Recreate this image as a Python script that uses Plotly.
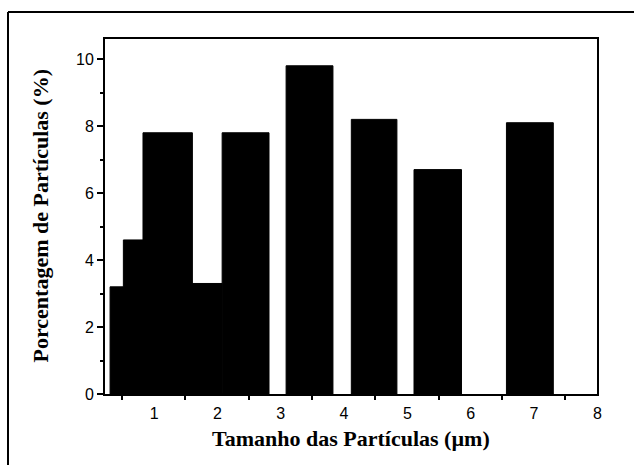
import plotly.graph_objects as go

# Particle size distribution (histogram-style bars with explicit bin widths)
bin_centers = [0.415, 0.675, 1.22, 1.845, 2.45, 3.46, 4.48, 5.485, 6.94]
bin_widths = [0.21, 0.31, 0.78, 0.47, 0.74, 0.74, 0.72, 0.75, 0.74]
percentages = [3.2, 4.6, 7.8, 3.3, 7.8, 9.8, 8.2, 6.7, 8.1]

x_tick_positions = [0.5, 1.5, 2.5, 3.5, 4.5, 5.5, 6.5, 7.5]
x_tick_labels = ["1", "2", "3", "4", "5", "6", "7", "8"]
y_tick_values = [0, 2, 4, 6, 8, 10]

x_title = "Tamanho das Partículas (µm)"
y_title = "Porcentagem de Partículas (%)"

W, H = 634, 465
ML, MR, MT, MB = 105, 37, 39, 71
plot_w = W - ML - MR
plot_h = H - MT - MB

fig = go.Figure(
    go.Bar(
        x=bin_centers,
        y=percentages,
        width=bin_widths,
        marker=dict(color="black", line=dict(color="black", width=1)),
    )
)

tick_font = dict(family="Liberation Sans, Arial, sans-serif", size=16, color="black")
title_font = dict(family="Liberation Serif, Times New Roman, serif", size=22, color="black")

fig.update_layout(
    width=W,
    height=H,
    margin=dict(l=ML, r=MR, t=MT, b=MB),
    paper_bgcolor="white",
    plot_bgcolor="white",
    showlegend=False,
    xaxis=dict(
        range=[0.23, 8.0],
        tickmode="array",
        tickvals=x_tick_positions,
        ticktext=x_tick_labels,
        ticklabelshift=32,
        ticks="outside",
        ticklen=4,
        tickwidth=1.5,
        tickcolor="black",
        showline=True,
        linecolor="black",
        linewidth=1.8,
        mirror=True,
        showgrid=False,
        zeroline=False,
        tickfont=tick_font,
    ),
    yaxis=dict(
        range=[0, 10.6],
        tickmode="array",
        tickvals=y_tick_values,
        ticks="outside",
        ticklen=6,
        tickwidth=1.5,
        tickcolor="black",
        minor=dict(ticks="outside", ticklen=3, tickwidth=1.5, tickcolor="black", dtick=1, tick0=0, showgrid=False),
        showline=True,
        linecolor="black",
        linewidth=1.8,
        mirror=True,
        showgrid=False,
        zeroline=False,
        tickfont=tick_font,
    ),
    annotations=[
        dict(
            text="<b>%s</b>" % x_title,
            xref="paper", yref="paper",
            x=0.5, y=-(438 - MT - plot_h) / plot_h,
            xanchor="center", yanchor="middle",
            showarrow=False, font=title_font,
        ),
        dict(
            text="<b>%s</b>" % y_title,
            xref="paper", yref="paper",
            x=(40 - ML) / plot_w, y=0.5,
            xanchor="center", yanchor="middle", textangle=-90,
            showarrow=False, font=title_font,
        ),
    ],
    shapes=[
        # outer border (left and top edges)
        dict(type="line", xref="paper", yref="paper",
             x0=(8 - ML) / plot_w, x1=(8 - ML) / plot_w,
             y0=1 + (MT - 12) / plot_h, y1=-0.4,
             line=dict(color="black", width=2)),
        dict(type="line", xref="paper", yref="paper",
             x0=(8 - ML) / plot_w, x1=1.2,
             y0=1 + (MT - 12) / plot_h, y1=1 + (MT - 12) / plot_h,
             line=dict(color="black", width=2)),
    ],
)

fig.write_html("out.html")
